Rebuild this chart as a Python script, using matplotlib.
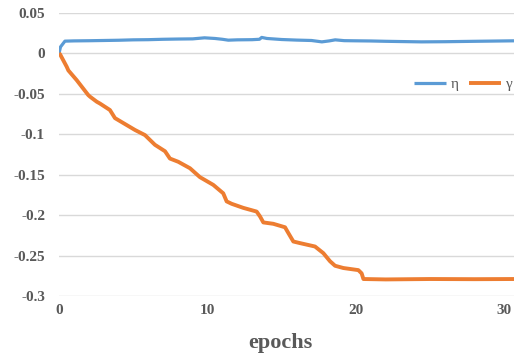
import matplotlib
matplotlib.use("Agg")
import matplotlib.pyplot as plt

# gamma series (epochs, value)
gamma_x = [0.0, 0.07, 0.52, 0.63, 1.19, 1.97, 2.09, 2.54, 2.76, 3.43, 3.77, 5.12, 5.79,
           6.46, 7.14, 7.47, 8.03, 8.82, 9.49, 10.39, 11.06, 11.29, 11.63, 12.41, 13.31,
           13.54, 13.76, 14.43, 15.22, 15.44, 15.78, 16.23, 17.24, 17.80, 18.25, 18.59,
           19.15, 20.16, 20.38, 20.5, 22.0, 25.0, 28.0, 30.64]
gamma_y = [0.0, -0.001, -0.0165, -0.021, -0.033, -0.0515, -0.0535, -0.0597, -0.062, -0.070,
           -0.080, -0.0947, -0.101, -0.113, -0.121, -0.130, -0.134, -0.142, -0.153, -0.1626,
           -0.173, -0.183, -0.186, -0.191, -0.1956, -0.2017, -0.209, -0.2107, -0.215, -0.222,
           -0.2326, -0.2346, -0.2388, -0.247, -0.257, -0.2626, -0.2654, -0.268, -0.272,
           -0.279, -0.2795, -0.279, -0.2792, -0.279]

# eta series (epochs, value)
eta_x = [0.0, 0.1, 0.4, 1.0, 2.0, 3.0, 4.0, 5.0, 6.0, 7.0, 8.0, 9.0, 9.8, 10.5, 11.0,
         11.4, 12.0, 13.0, 13.5, 13.65, 14.0, 15.0, 16.0, 17.0, 17.7, 18.2, 18.6, 19.2,
         20.0, 21.0, 22.0, 23.0, 24.4, 26.0, 28.0, 30.64]
eta_y = [0.0, 0.008, 0.0152, 0.0155, 0.0157, 0.016, 0.0163, 0.0168, 0.017, 0.0175,
         0.0178, 0.018, 0.0193, 0.0185, 0.0175, 0.0164, 0.0168, 0.017, 0.0175, 0.0198,
         0.0185, 0.0172, 0.0165, 0.016, 0.0143, 0.0155, 0.0168, 0.0158, 0.0156, 0.0154,
         0.015, 0.0147, 0.0143, 0.0145, 0.015, 0.0156]

y_ticks = [0.05, 0, -0.05, -0.1, -0.15, -0.2, -0.25, -0.3]
y_labels = ["0.05", "0", "-0.05", "-0.1", "-0.15", "-0.2", "-0.25", "-0.3"]
x_ticks = [0, 10, 20, 30]

plt.rcParams['font.family'] = ['Liberation Serif', 'DejaVu Serif']
fig = plt.figure(figsize=(5.19, 3.59), dpi=100)
ax = fig.add_axes([59/519, (359-296)/359, (514-59)/519, (296-13)/359])

ax.plot(eta_x, eta_y, color='#5b9bd5', lw=2.3, label='η', solid_capstyle='butt')
ax.plot(gamma_x, gamma_y, color='#ed7d31', lw=2.8, label='γ', solid_capstyle='butt')

ax.set_xlim(0, 30.64)
ax.set_ylim(-0.3, 0.05)
ax.set_yticks(y_ticks)
ax.set_yticklabels(y_labels)
ax.set_xticks(x_ticks)
for s in ax.spines.values():
    s.set_visible(False)
ax.yaxis.grid(True, color='#d9d9d9', lw=1)
ax.set_axisbelow(True)
ax.tick_params(length=0, labelsize=11, labelcolor='#595959')
ax.tick_params(axis='y', pad=10)
ax.tick_params(axis='x', pad=6)
for lab in ax.get_xticklabels() + ax.get_yticklabels():
    lab.set_fontweight('bold')

fig.text(280/519, (359-343)/359, 'epochs', ha='center', va='center',
         fontsize=16, fontweight='bold', color='#595959')

leg = ax.legend(loc='center right', bbox_to_anchor=(1.0, 1 - (84.5-13)/283), ncol=2,
                frameon=False, fontsize=11, handlelength=2.1, handletextpad=0.3,
                columnspacing=0.7, borderaxespad=0.0, borderpad=0.1)
for t in leg.get_texts():
    t.set_color('#595959')

fig.savefig('out.png', dpi=100)
